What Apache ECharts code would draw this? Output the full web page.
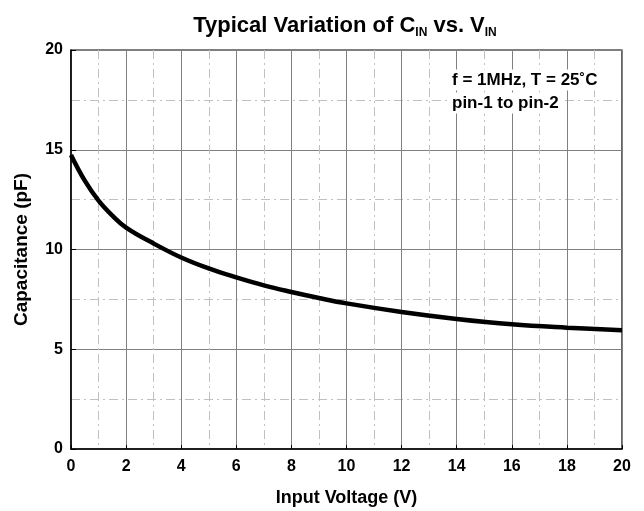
<!DOCTYPE html>
<html><head><meta charset="utf-8">
<script src="https://cdn.jsdelivr.net/npm/echarts@6/dist/echarts.min.js"></script>
<style>html,body{margin:0;padding:0;background:#fff}#c{width:644px;height:511px}</style>
</head><body><div id="c"></div>
<script>
const voltage = [0, 0.5, 1, 1.5, 2, 3, 4, 5, 6, 7, 8, 9, 10, 12, 14, 16, 18, 20];
const capacitance = [14.74, 13.45, 12.45, 11.7, 11.1, 10.3, 9.6, 9.05, 8.6, 8.2, 7.87, 7.57, 7.3, 6.87, 6.52, 6.25, 6.08, 5.95];
const xTicks = [0, 2, 4, 6, 8, 10, 12, 14, 16, 18, 20];
const yTicks = [0, 5, 10, 15, 20];
const note = ['f = 1MHz, T = 25\u02daC', 'pin-1 to pin-2'];

const chart = echarts.init(document.getElementById('c'), null, {renderer: 'canvas'});
const F = 'Liberation Sans, Arial, Helvetica, sans-serif';
const minorDash = {color: '#c0c0c0', width: 1, type: [9, 4, 2, 4]};
chart.setOption({
  animation: false,
  backgroundColor: '#fff',
  title: {
    text: '{t|Typical Variation of C}{s|IN}{t| vs. V}{s|IN}',
    left: 340, top: 8, textAlign: 'center',
    textStyle: {rich: {
      t: {fontFamily: F, fontWeight: 'bold', fontSize: 22, color: '#000'},
      s: {fontFamily: F, fontWeight: 'bold', fontSize: 12, color: '#000', padding: [14, 0, 0, 0]}
    }}
  },
  grid: {left: 71, right: 22, top: 50, bottom: 62, show: true, borderColor: '#000', borderWidth: 1.2,
    outerBoundsMode: 'none', containLabel: false},
  xAxis: {
    type: 'value', min: xTicks[0], max: xTicks[xTicks.length - 1], interval: 2,
    name: 'Input Voltage (V)', nameLocation: 'middle', nameGap: 40,
    nameTextStyle: {fontFamily: F, fontWeight: 'bold', fontSize: 18, color: '#000'},
    axisLine: {lineStyle: {color: '#000', width: 1.5}},
    axisTick: {inside: true, length: 4, lineStyle: {color: '#000'}},
    axisLabel: {fontFamily: F, fontWeight: 'bold', fontSize: 16, color: '#000', margin: 10,
      formatter: v => xTicks.includes(v) ? String(v) : ''},
    splitLine: {show: true, lineStyle: {color: '#808080', width: 1}},
    minorTick: {show: false, splitNumber: 2},
    minorSplitLine: {show: true, lineStyle: minorDash}
  },
  yAxis: {
    type: 'value', min: yTicks[0], max: yTicks[yTicks.length - 1], interval: 5,
    name: 'Capacitance (pF)', nameLocation: 'middle', nameGap: 40,
    nameTextStyle: {fontFamily: F, fontWeight: 'bold', fontSize: 19, color: '#000'},
    axisLine: {show: true, lineStyle: {color: '#000', width: 1.5}},
    axisTick: {show: true, inside: true, length: 5, lineStyle: {color: '#000'}},
    axisLabel: {fontFamily: F, fontWeight: 'bold', fontSize: 16, color: '#000', margin: 8,
      formatter: v => yTicks.includes(v) ? String(v) : ''},
    splitLine: {show: true, lineStyle: {color: '#808080', width: 1}},
    minorTick: {show: false, splitNumber: 2},
    minorSplitLine: {show: true, lineStyle: minorDash}
  },
  series: [{
    type: 'line', smooth: 0.4, showSymbol: false,
    data: voltage.map((v, i) => [v, capacitance[i]]),
    lineStyle: {color: '#000', width: 4.5}
  }],
  graphic: [{
    type: 'text', x: 449, y: 80, z: 100,
    style: {text: note[0], font: 'bold 17px ' + F, fill: '#000', verticalAlign: 'middle',
      backgroundColor: '#fff', padding: [2, 3, 2, 3]}
  }, {
    type: 'text', x: 449, y: 103, z: 100,
    style: {text: note[1], font: 'bold 17px ' + F, fill: '#000', verticalAlign: 'middle',
      backgroundColor: '#fff', padding: [2, 3, 2, 3]}
  }]
});
</script></body></html>
